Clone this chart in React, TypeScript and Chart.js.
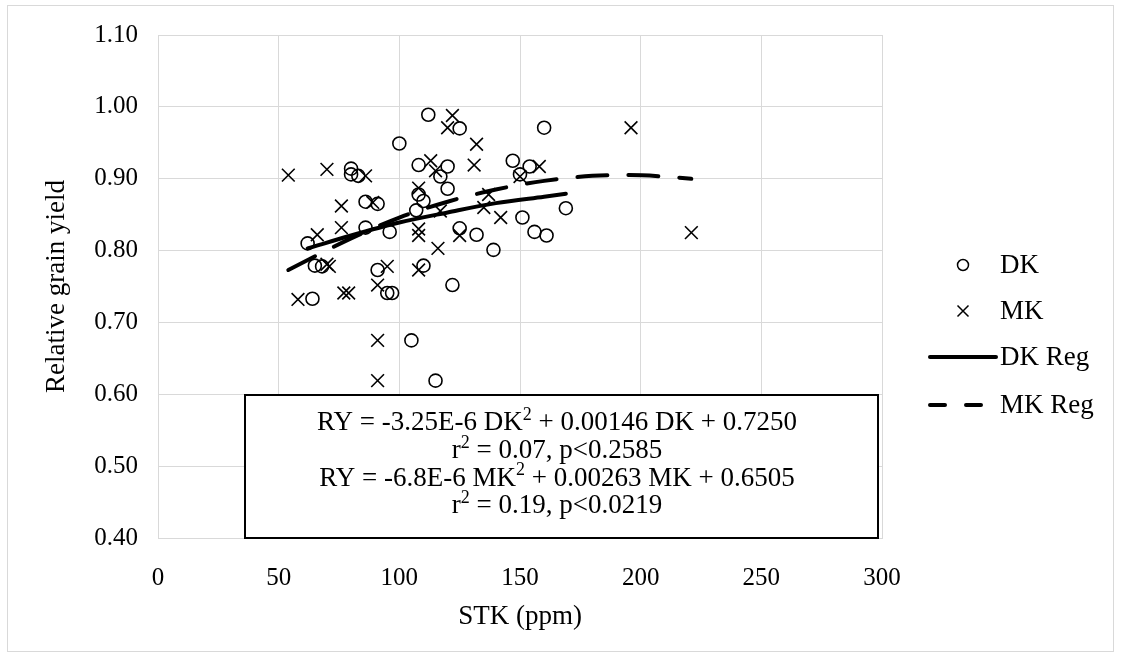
import React, { useEffect, useRef } from "react";
import { Chart, registerables } from "chart.js";

Chart.register(...registerables);

// ---------- data ----------
const dkX = [62, 64, 65, 68, 80, 80, 83, 86, 86, 91, 91, 95, 97, 96, 100, 105, 107, 108, 108, 110, 110, 112, 115, 117, 120, 120, 122, 125, 125, 132, 139, 147, 150, 151, 154, 156, 160, 161, 169];
const dkY = [0.810, 0.733, 0.779, 0.778, 0.914, 0.906, 0.904, 0.868, 0.832, 0.865, 0.773, 0.741, 0.741, 0.826, 0.949, 0.675, 0.856, 0.919, 0.878, 0.869, 0.779, 0.989, 0.619, 0.903, 0.917, 0.886, 0.752, 0.970, 0.831, 0.822, 0.801, 0.925, 0.906, 0.846, 0.917, 0.826, 0.971, 0.821, 0.859];

const mkX = [54, 58, 66, 70, 70, 71, 76, 76, 77, 79, 86, 89, 91, 91, 91, 95, 108, 108, 108, 108, 113, 115, 116, 117, 120, 122, 125, 131, 132, 135, 137, 142, 150, 158, 196, 221];
const mkY = [0.905, 0.732, 0.822, 0.913, 0.781, 0.778, 0.862, 0.832, 0.741, 0.741, 0.904, 0.867, 0.752, 0.675, 0.619, 0.778, 0.887, 0.830, 0.821, 0.773, 0.925, 0.911, 0.803, 0.855, 0.971, 0.988, 0.821, 0.919, 0.948, 0.860, 0.878, 0.846, 0.903, 0.917, 0.971, 0.825];

// regression curves (match the printed equations)
const dkRegX = [62, 80, 100, 120, 140, 160, 169];
const dkRegY = [0.803, 0.821, 0.839, 0.853, 0.866, 0.875, 0.879];
const mkRegX = [54, 80, 100, 120, 140, 160, 180, 195, 210, 221];
const mkRegY = [0.773, 0.817, 0.846, 0.868, 0.885, 0.897, 0.904, 0.905, 0.903, 0.900];

const xTicks = [0, 50, 100, 150, 200, 250, 300];
const yTicks = [0.4, 0.5, 0.6, 0.7, 0.8, 0.9, 1.0, 1.1];

const legendLabels = ["DK", "MK", "DK Reg", "MK Reg"];
const xTitle = "STK (ppm)";
const yTitle = "Relative grain yield";

// equation text: [text, isSuperscript]
const eqLines: [string, boolean][][] = [
  [["RY = -3.25E-6 DK", false], ["2", true], [" + 0.00146 DK + 0.7250", false]],
  [["r", false], ["2", true], [" = 0.07, p<0.2585", false]],
  [["RY = -6.8E-6 MK", false], ["2", true], [" + 0.00263 MK + 0.6505", false]],
  [["r", false], ["2", true], [" = 0.19, p<0.0219", false]],
];

// ---------- layout ----------
const W = 1121;
const H = 662;
const PLOT_L = 158;
const PLOT_R = 882;
const PLOT_T = 34;
const PLOT_B = 538;
const FONT = "'Liberation Serif', 'Times New Roman', serif";
const TICK_FS = 25;
const TITLE_FS = 27;
const LEG_FS = 27;
const EQ_FS = 27;
const BOX = { l: 245, r: 878, t: 395, b: 538 };
const EQ_CX = 557;

const toPts = (xs: number[], ys: number[]) => xs.map((x, i) => ({ x, y: ys[i] }));

function drawRich(ctx: CanvasRenderingContext2D, segs: [string, boolean][], cx: number, baseY: number) {
  const normal = `${EQ_FS}px ${FONT}`;
  const sup = `${Math.round(EQ_FS * 0.65)}px ${FONT}`;
  let total = 0;
  const widths = segs.map(([t, s]) => {
    ctx.font = s ? sup : normal;
    const w = ctx.measureText(t).width;
    total += w;
    return w;
  });
  let x = cx - total / 2;
  ctx.textAlign = "left";
  ctx.textBaseline = "alphabetic";
  ctx.fillStyle = "#000";
  segs.forEach(([t, s], i) => {
    ctx.font = s ? sup : normal;
    ctx.fillText(t, x, s ? baseY - EQ_FS * 0.38 : baseY);
    x += widths[i];
  });
}

const overlayPlugin = {
  id: "overlay",
  beforeDraw(chart: any) {
    const ctx = chart.ctx as CanvasRenderingContext2D;
    ctx.save();
    ctx.fillStyle = "#fff";
    ctx.fillRect(0, 0, W, H);
    ctx.strokeStyle = "#d9d9d9";
    ctx.lineWidth = 1;
    ctx.strokeRect(7.5, 5.5, 1106, 646);
    ctx.restore();
  },
  beforeDatasetsDraw(chart: any) {
    const ctx = chart.ctx as CanvasRenderingContext2D;
    ctx.save();
    ctx.fillStyle = "#fff";
    ctx.fillRect(BOX.l, BOX.t, BOX.r - BOX.l, BOX.b - BOX.t);
    ctx.strokeStyle = "#000";
    ctx.lineWidth = 2;
    ctx.strokeRect(BOX.l, BOX.t, BOX.r - BOX.l, BOX.b - BOX.t);
    eqLines.forEach((segs, i) => drawRich(ctx, segs, EQ_CX, BOX.t + 35 + i * 27.8));
    ctx.restore();
  },
  afterDraw(chart: any) {
    const ctx = chart.ctx as CanvasRenderingContext2D;
    const rows = [265, 311, 357, 405];
    const mx = 963;
    const tx = 1000;
    ctx.save();
    ctx.strokeStyle = "#000";
    ctx.fillStyle = "#000";
    // DK marker
    ctx.lineWidth = 1.5;
    ctx.beginPath();
    ctx.arc(mx, rows[0], 5.5, 0, Math.PI * 2);
    ctx.stroke();
    // MK marker
    ctx.beginPath();
    ctx.moveTo(mx - 5.5, rows[1] - 5.5);
    ctx.lineTo(mx + 5.5, rows[1] + 5.5);
    ctx.moveTo(mx + 5.5, rows[1] - 5.5);
    ctx.lineTo(mx - 5.5, rows[1] + 5.5);
    ctx.stroke();
    // DK Reg line
    ctx.lineWidth = 4;
    ctx.lineCap = "round";
    ctx.beginPath();
    ctx.moveTo(930, rows[2]);
    ctx.lineTo(996, rows[2]);
    ctx.stroke();
    // MK Reg dashed
    ctx.beginPath();
    ctx.moveTo(930, rows[3]);
    ctx.lineTo(945, rows[3]);
    ctx.moveTo(966, rows[3]);
    ctx.lineTo(981, rows[3]);
    ctx.stroke();
    ctx.font = `${LEG_FS}px ${FONT}`;
    ctx.textAlign = "left";
    ctx.textBaseline = "middle";
    legendLabels.forEach((l, i) => ctx.fillText(l, tx, rows[i] + 1));
    ctx.restore();
  },
};

export default function App() {
  const ref = useRef<HTMLCanvasElement | null>(null);
  useEffect(() => {
    if (!ref.current) return;
    const chart = new Chart(ref.current, {
      type: "scatter",
      data: {
        datasets: [
          {
            label: legendLabels[0],
            data: toPts(dkX, dkY),
            pointStyle: "circle",
            pointRadius: 6.5,
            pointBorderWidth: 1.6,
            pointBorderColor: "#000",
            pointBackgroundColor: "rgba(0,0,0,0)",
            order: 2,
          },
          {
            label: legendLabels[1],
            data: toPts(mkX, mkY),
            pointStyle: "crossRot",
            pointRadius: 9,
            pointBorderWidth: 1.6,
            pointBorderColor: "#000",
            pointBackgroundColor: "rgba(0,0,0,0)",
            order: 2,
          },
          {
            label: legendLabels[2],
            data: toPts(dkRegX, dkRegY),
            showLine: true,
            pointRadius: 0,
            borderColor: "#000",
            borderWidth: 4,
            borderCapStyle: "round",
            cubicInterpolationMode: "monotone",
            order: 1,
          },
          {
            label: legendLabels[3],
            data: toPts(mkRegX, mkRegY),
            showLine: true,
            pointRadius: 0,
            borderColor: "#000",
            borderWidth: 4,
            borderCapStyle: "round",
            borderDash: [30, 21],
            cubicInterpolationMode: "monotone",
            order: 0,
          },
        ],
      } as any,
      options: {
        animation: false,
        responsive: false,
        devicePixelRatio: 1,
        layout: { padding: { left: 0, top: PLOT_T, right: W - PLOT_R, bottom: 0 } },
        plugins: { legend: { display: false }, tooltip: { enabled: false } },
        scales: {
          x: {
            type: "linear",
            min: 0,
            max: 300,
            afterFit: (s: any) => {
              s.height = H - PLOT_B;
            },
            afterBuildTicks: (s: any) => {
              s.ticks = xTicks.map((v) => ({ value: v }));
            },
            grid: { color: "#d9d9d9", lineWidth: 1, drawTicks: false },
            border: { color: "#d9d9d9", width: 1 },
            ticks: {
              color: "#000",
              font: { family: FONT, size: TICK_FS },
              padding: 25,
              callback: (v: any) => String(v),
            },
            title: {
              display: true,
              text: xTitle,
              color: "#000",
              font: { family: FONT, size: TITLE_FS },
              padding: { top: 0, bottom: 29 },
            },
          },
          y: {
            type: "linear",
            min: 0.4,
            max: 1.1,
            afterFit: (s: any) => {
              s.width = PLOT_L;
            },
            afterBuildTicks: (s: any) => {
              s.ticks = yTicks.map((v) => ({ value: v }));
            },
            grid: { color: "#d9d9d9", lineWidth: 1, drawTicks: false },
            border: { color: "#d9d9d9", width: 1 },
            ticks: {
              color: "#000",
              font: { family: FONT, size: TICK_FS },
              padding: 20,
              callback: (v: any) => Number(v).toFixed(2),
            },
            title: {
              display: true,
              text: yTitle,
              color: "#000",
              font: { family: FONT, size: TITLE_FS },
              padding: { top: 41, bottom: 0 },
            },
          },
        },
      } as any,
      plugins: [overlayPlugin as any],
    });
    return () => chart.destroy();
  }, []);
  return (
    <div style={{ position: "absolute", left: 0, top: 0, width: W, height: H }}>
      <canvas ref={ref} width={W} height={H} style={{ width: W, height: H, display: "block" }} />
    </div>
  );
}
